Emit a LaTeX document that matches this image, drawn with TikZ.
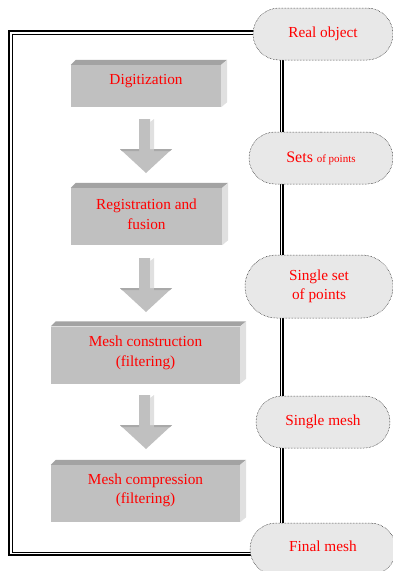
\documentclass[tikz,border=0pt]{standalone}
\usepackage{fontspec}
\setmainfont{Liberation Serif}
\newfontfamily\tnr{Liberation Serif}
\usetikzlibrary{shapes.misc}
\definecolor{frontc}{HTML}{C0C0C0}
\definecolor{topc}{HTML}{A3A3A3}
\definecolor{sidec}{HTML}{E0E0E0}
\definecolor{pillc}{HTML}{E8E8E8}
\tikzset{
  stepbox/.style={fill=frontc, inner sep=0pt, draw=none},
  lbl/.style={text=red, align=center, inner sep=0pt, font=\tnr\fontsize{15.3}{19.5}\selectfont},
  pill/.style={rounded rectangle, draw=black, densely dotted, line width=0.5pt, fill=pillc, inner sep=0pt,
     text=red, align=center, font=\tnr\fontsize{15.3}{19.5}\selectfont},
}
\newcommand\bevelfaces[1]{%
  \fill[topc] (#1.north west) -- ++(5,-5) -- ([xshift=6pt,yshift=5pt]#1.north east) -- (#1.north east) -- cycle;
  \fill[sidec] (#1.north east) -- ++(6,-5) -- ([xshift=6pt,yshift=5pt]#1.south east) -- (#1.south east) -- cycle;}
\newcommand\downarr[1]{%
  \fill[frontc] (139,#1) -- (150,#1) -- (150,#1+30) -- (172,#1+30) -- (146,#1+54) -- (120,#1+30) -- (139,#1+30) -- cycle;
  \fill[sidec] (150,#1+3) -- (154,#1) -- (154,#1+30) -- (150,#1+30) -- cycle;
  \fill[topc!80!frontc] (120,#1+30) -- (139,#1+30) -- (139,#1+32) -- (122,#1+32) -- cycle;
  \fill[topc!80!frontc] (154,#1+30) -- (172,#1+30) -- (170,#1+32) -- (154,#1+32) -- cycle;}
\begin{document}
\begin{tikzpicture}[x=1pt,y=-1pt]
\useasboundingbox (0,0) rectangle (393,571);
% frame
\draw[line width=1.5pt] (9,31) rectangle (283,555);
\draw[line width=0.7pt] (12,34) rectangle (280,552);
% boxes
\node[stepbox, minimum width=150, minimum height=42] (d) at (146,86) {};
\bevelfaces{d}
\node[lbl, yshift=5pt] (dt) at (d) {Digitization};
\node[stepbox, minimum width=151, minimum height=57] (r) at (146.5,216.5) {};
\bevelfaces{r}
\node[lbl, yshift=2pt] (rt) at (r) {Registration and\\fusion};
\node[stepbox, minimum width=189, minimum height=57] (m) at (145.5,355) {};
\bevelfaces{m}
\node[lbl, yshift=2pt] (mt) at (m) {Mesh construction\\(filtering)};
\node[stepbox, minimum width=189, minimum height=57] (c) at (145.5,493.5) {};
\bevelfaces{c}
\node[lbl, yshift=3pt] (ct) at (c) {Mesh compression\\(filtering)};
% arrows
\downarr{119}
\downarr{258}
\downarr{395}
% pills
\node[pill, minimum width=140, minimum height=52] (p1) at (323,34) {Real object};
\node[pill, minimum width=144, minimum height=52] (p2) at (321,158) {{\fontsize{16}{19}\selectfont Sets} {\fontsize{11}{13}\selectfont of points}};
\node[pill, minimum width=148, minimum height=63] (p3) at (319,286.5) {Single set\\of points};
\node[pill, minimum width=134, minimum height=52] (p4) at (323,422) {Single mesh};
\node[pill, minimum width=146, minimum height=52] (p5) at (323,549) {\raisebox{6pt}{Final mesh}};
\end{tikzpicture}
\end{document}
